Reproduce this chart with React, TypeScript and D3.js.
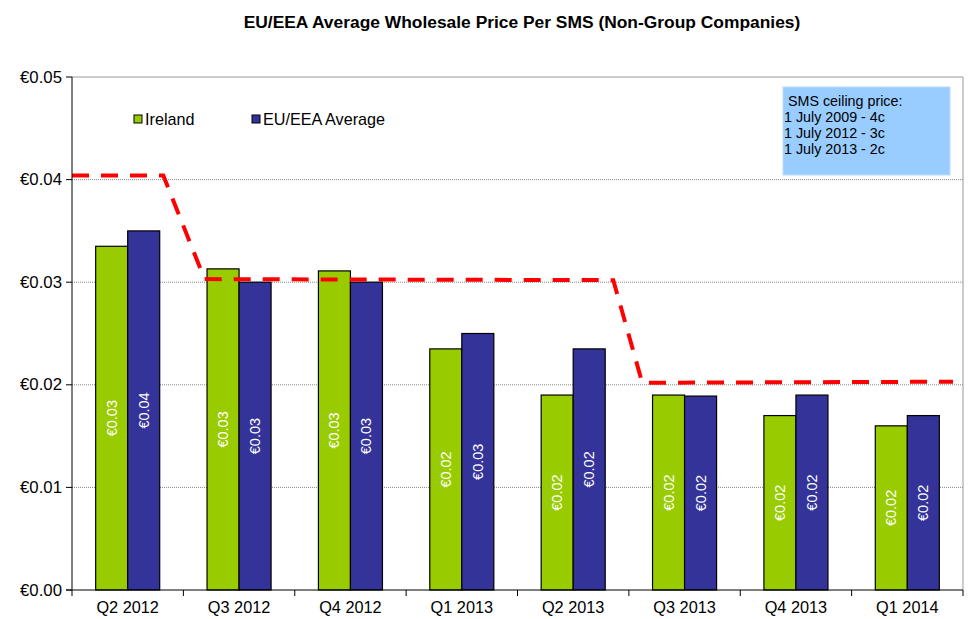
import React from "react";
import * as d3 from "d3";

const categories = ["Q2 2012", "Q3 2012", "Q4 2012", "Q1 2013", "Q2 2013", "Q3 2013", "Q4 2013", "Q1 2014"];
const irelandValues = [0.0335, 0.0313, 0.0311, 0.0235, 0.0190, 0.0190, 0.0170, 0.0160];
const euValues = [0.0350, 0.0300, 0.0300, 0.0250, 0.0235, 0.0189, 0.0190, 0.0170];
const seriesNames = ["Ireland", "EU/EEA Average"];
const yTicks = [0, 0.01, 0.02, 0.03, 0.04, 0.05];
// ceiling price line: x in category-index units, y in euro
const ceilingX = [-0.5, 0.32, 0.69, 4.36, 4.62, 7.41];
const ceilingY = [0.0404, 0.0404, 0.0303, 0.0302, 0.0202, 0.0203];
const noteLines = ["SMS ceiling price:", "1 July 2009 - 4c", "1 July 2012 - 3c", "1 July 2013 - 2c"];
const title = "EU/EEA Average Wholesale Price Per SMS (Non-Group Companies)";

const W = 969, H = 619;
const L = 72, R = 963, T = 77, B = 590;
const FONT = "'Liberation Sans', Arial, sans-serif";
const GREEN = "#99CC00";
const BLUE = "#333399";

export default function App() {
  const x = d3.scaleBand<string>().domain(categories).range([L, R]).paddingInner(0.425).paddingOuter(0.2125);
  const xLin = d3.scaleLinear().domain([-0.5, categories.length - 0.5]).range([L, R]);
  const y = d3.scaleLinear().domain([0, 0.05]).range([B, T]);
  const bw = x.bandwidth() / 2;
  const fmt = (v: number) => "€" + v.toFixed(2);
  const step = x.step();

  const line = d3.line<number>().x((_, i) => xLin(ceilingX[i])).y((d) => y(d));

  return (
    <svg width={W} height={H} style={{ position: "absolute", left: 0, top: 0, background: "#fff" }} fontFamily={FONT}>
      <rect x={0} y={0} width={W} height={H} fill="#fff" />
      <text x={522} y={28} textAnchor="middle" fontSize={17.4} fontWeight="bold" fill="#000">{title}</text>

      {/* plot border */}
      <line x1={L} x2={R} y1={T} y2={T} stroke="#999" strokeWidth={1} />
      <line x1={R} x2={R} y1={T} y2={B} stroke="#999" strokeWidth={1} />

      {/* gridlines */}
      {yTicks.filter((t) => t > 0 && t < 0.05).map((t) => (
        <line key={t} x1={L} x2={R} y1={y(t)} y2={y(t)} stroke="#888" strokeWidth={1} strokeDasharray="1,1" />
      ))}

      {/* bars */}
      {categories.map((c, i) => {
        const x0 = x(c)!;
        const vals = [irelandValues[i], euValues[i]];
        return (
          <g key={c}>
            {vals.map((v, j) => {
              const bx = x0 + j * bw;
              const by = y(v);
              const cx = bx + bw / 2;
              const cy = (by + B) / 2;
              return (
                <g key={j}>
                  <rect x={bx} y={by} width={bw} height={B - by} fill={j === 0 ? GREEN : BLUE} stroke="#000" strokeWidth={1.2} />
                  <text x={cx} y={cy} transform={`rotate(-90 ${cx} ${cy})`} textAnchor="middle" dominantBaseline="central" fontSize={14.5} fill="#fff">{fmt(v)}</text>
                </g>
              );
            })}
          </g>
        );
      })}

      {/* ceiling line */}
      <path d={line(ceilingY) || ""} fill="none" stroke="#FF0000" strokeWidth={4} strokeDasharray="17,12" />

      {/* axes */}
      <line x1={L} x2={L} y1={T} y2={B} stroke="#000" strokeWidth={1} />
      <line x1={L - 6} x2={R} y1={B} y2={B} stroke="#000" strokeWidth={1} />
      {yTicks.map((t) => (
        <g key={t}>
          <line x1={L - 6} x2={L} y1={y(t)} y2={y(t)} stroke="#000" />
          <text x={L - 10} y={y(t)} textAnchor="end" dominantBaseline="central" fontSize={16.8} fill="#000">{fmt(t)}</text>
        </g>
      ))}
      {d3.range(categories.length + 1).map((i) => (
        <line key={i} x1={L + i * step} x2={L + i * step} y1={B} y2={B + 6} stroke="#000" />
      ))}
      {categories.map((c) => (
        <text key={c} x={x(c)! + x.bandwidth() / 2} y={607} textAnchor="middle" dominantBaseline="central" fontSize={16.3} fill="#000">{c}</text>
      ))}

      {/* legend */}
      {seriesNames.map((n, i) => {
        const lx = i === 0 ? 134 : 252;
        return (
          <g key={n}>
            <rect x={lx} y={115} width={8} height={8} fill={i === 0 ? GREEN : BLUE} stroke="#000" strokeWidth={1} />
            <text x={lx + 11} y={119} dominantBaseline="central" fontSize={16.2} fill="#000">{n}</text>
          </g>
        );
      })}

      {/* note box */}
      <rect x={783} y={87} width={167} height={88} fill="#99CCFF" stroke="#bcdcff" strokeWidth={1} />
      {noteLines.map((s, i) => (
        <text key={i} x={i === 0 ? 788 : 784} y={101 + i * 16} dominantBaseline="central" fontSize={14.3} fill="#000">{s}</text>
      ))}
    </svg>
  );
}
